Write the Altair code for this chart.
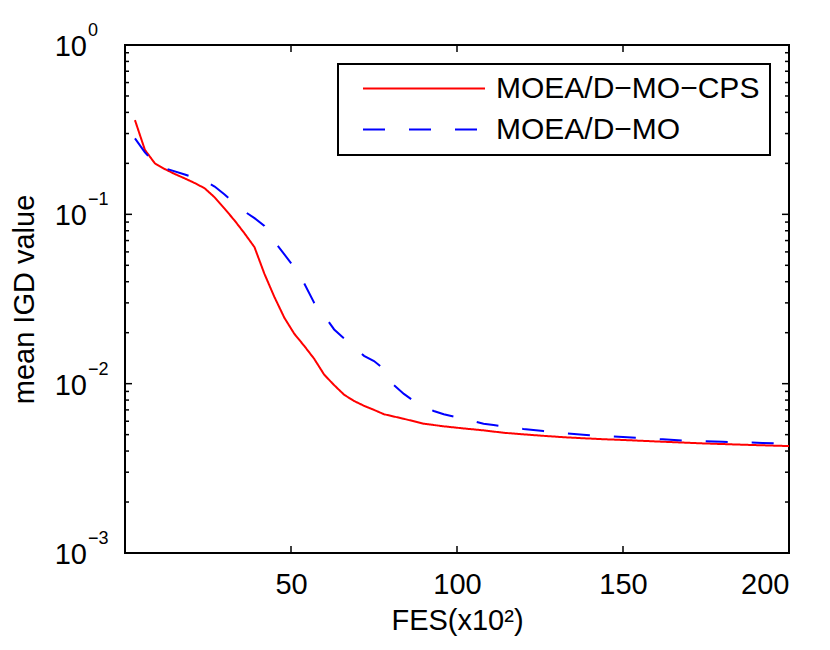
import altair as alt
import pandas as pd

# ---- data ----
series_names = ["MOEA/D−MO−CPS", "MOEA/D−MO"]

x_cps = [3, 6, 9, 12, 15, 18, 21, 24, 27, 30, 33, 36, 39, 42, 45, 48, 51, 54, 57, 60,
         63, 66, 69, 72, 75, 78, 84, 90, 96, 102, 108, 114, 120, 126, 132, 138, 144, 150,
         162, 174, 186, 200]
y_cps = [0.36, 0.24, 0.20, 0.185, 0.173, 0.163, 0.153, 0.1425, 0.126, 0.108, 0.092, 0.0772,
         0.064, 0.0445, 0.0325, 0.0245, 0.0197, 0.0167, 0.0140, 0.0113, 0.0098, 0.0086,
         0.0079, 0.0074, 0.0070, 0.0066, 0.0062, 0.0058, 0.0056, 0.00544, 0.0053, 0.00513,
         0.00502, 0.00492, 0.00483, 0.00476, 0.0047, 0.00465, 0.00454, 0.00444, 0.00436, 0.00428]

x_mo = [3, 6, 9, 12, 18, 24, 27, 30, 33, 36, 39, 42, 45, 48, 51, 54, 57, 60, 63, 66, 69, 72,
        75, 78, 81, 84, 87, 90, 93, 96, 99, 102, 105, 108, 111, 114, 120, 126, 132, 138, 144,
        150, 156, 162, 168, 174, 180, 186, 192, 198, 200]
y_mo = [0.281, 0.232, 0.200, 0.187, 0.172, 0.157, 0.146, 0.131, 0.116, 0.104, 0.095, 0.0853,
        0.069, 0.058, 0.0485, 0.039, 0.030, 0.0252, 0.0209, 0.0185, 0.0165, 0.0146, 0.0136,
        0.0122, 0.0098, 0.0087, 0.0079, 0.0073, 0.0069, 0.0066, 0.0064, 0.0062, 0.0060, 0.0058,
        0.0057, 0.0056, 0.0054, 0.00525, 0.0051, 0.0050, 0.0049, 0.00484, 0.00476, 0.00469,
        0.00462, 0.00458, 0.00454, 0.0045, 0.00447, 0.00443, 0.0044]

x_ticks = [50, 100, 150, 200]
y_major = [1, 0.1, 0.01, 0.001]
y_exponents = ["0", "−1", "−2", "−3"]
y_minor = [m * 10 ** e for e in (-3, -2, -1) for m in range(2, 10)]

df = pd.concat([
    pd.DataFrame({"FES": x_cps, "IGD": y_cps, "series": series_names[0]}),
    pd.DataFrame({"FES": x_mo, "IGD": y_mo, "series": series_names[1]}),
], ignore_index=True)
lab = pd.DataFrame({"v": y_major, "exp": y_exponents, "base": ["10"] * len(y_major)})
xt = pd.DataFrame({"t": x_ticks})
ymaj = pd.DataFrame({"v": y_major})
ymin = pd.DataFrame({"v": y_minor})

FONT = "Liberation Sans"
W, H = 664, 508
MAJ, MIN = 7, 4

xs = alt.Scale(domain=[0, 200], nice=False, zero=False)
ys = alt.Scale(type="log", domain=[0.001, 1], nice=False)

leg = alt.Legend(orient="none", legendX=213, legendY=19, labelFont=FONT, labelFontSize=30,
                 labelColor="black", symbolType="stroke", symbolSize=14884, symbolStrokeWidth=2,
                 clipHeight=29, rowPadding=10, padding=10, symbolOffset=14, labelOffset=10,
                 strokeColor="black", fillColor="white", labelLimit=500)

color = alt.Color("series:N", title=None,
                  scale=alt.Scale(domain=series_names, range=["#ff0000", "#0000ff"]), legend=leg)
dash = alt.StrokeDash("series:N", title=None,
                      scale=alt.Scale(domain=series_names, range=[[1, 0], [22, 24]]), legend=leg)

lines = alt.Chart(df).mark_line(strokeWidth=2, clip=True).encode(
    x=alt.X("FES:Q", scale=xs, axis=alt.Axis(
        orient="bottom", values=x_ticks, ticks=False, domain=False, grid=False,
        labelPadding=17, title="FES(x10²)", titlePadding=7)),
    y=alt.Y("IGD:Q", scale=ys, axis=alt.Axis(
        orient="left", values=y_major, ticks=False, labels=False, domain=False,
        grid=False, title="mean IGD value", titlePadding=86)),
    color=color,
    strokeDash=dash,
)

rule = dict(color="black", strokeWidth=1.5)
xq = alt.X("t:Q", scale=xs, axis=None)
yq = alt.Y("v:Q", scale=ys, axis=None)

tick_bottom = alt.Chart(xt).mark_rule(**rule).encode(x=xq, y=alt.value(H), y2=alt.value(H - MAJ))
tick_top = alt.Chart(xt).mark_rule(**rule).encode(x=xq, y=alt.value(0), y2=alt.value(MAJ))
tick_left = alt.Chart(ymaj).mark_rule(**rule).encode(y=yq, x=alt.value(0), x2=alt.value(MAJ))
tick_right = alt.Chart(ymaj).mark_rule(**rule).encode(y=yq, x=alt.value(W), x2=alt.value(W - MAJ))
mtick_left = alt.Chart(ymin).mark_rule(**rule).encode(y=yq, x=alt.value(0), x2=alt.value(MIN))
mtick_right = alt.Chart(ymin).mark_rule(**rule).encode(y=yq, x=alt.value(W), x2=alt.value(W - MIN))

tick_base = alt.Chart(lab).mark_text(
    align="right", baseline="alphabetic", dx=-38, dy=11, font=FONT, fontSize=29, color="black"
).encode(
    x=alt.value(0),
    y=alt.Y("v:Q", scale=ys, axis=None),
    text="base:N",
)

tick_exp = alt.Chart(lab).mark_text(
    align="left", baseline="alphabetic", dx=-37, dy=-9, font=FONT, fontSize=18, color="black"
).encode(
    x=alt.value(0),
    y=alt.Y("v:Q", scale=ys, axis=None),
    text="exp:N",
)

chart = alt.layer(
    lines, tick_bottom, tick_top, tick_left, tick_right, mtick_left, mtick_right,
    tick_base, tick_exp
).resolve_axis(
    x="independent", y="independent"
).properties(
    width=W, height=H,
    autosize=alt.AutoSizeParams(type="none"),
    padding={"left": 117, "top": 37, "right": 33, "bottom": 88},
    background="white",
).configure_view(
    stroke="black", strokeWidth=2
).configure_axis(
    labelFont=FONT, titleFont=FONT,
    labelFontSize=29, titleFontSize=29, labelColor="black", titleColor="black",
    titleFontWeight="normal"
).configure_legend(
    strokeWidth=2
)

chart.save("out.html", embed_options={"renderer": "svg", "actions": False})
